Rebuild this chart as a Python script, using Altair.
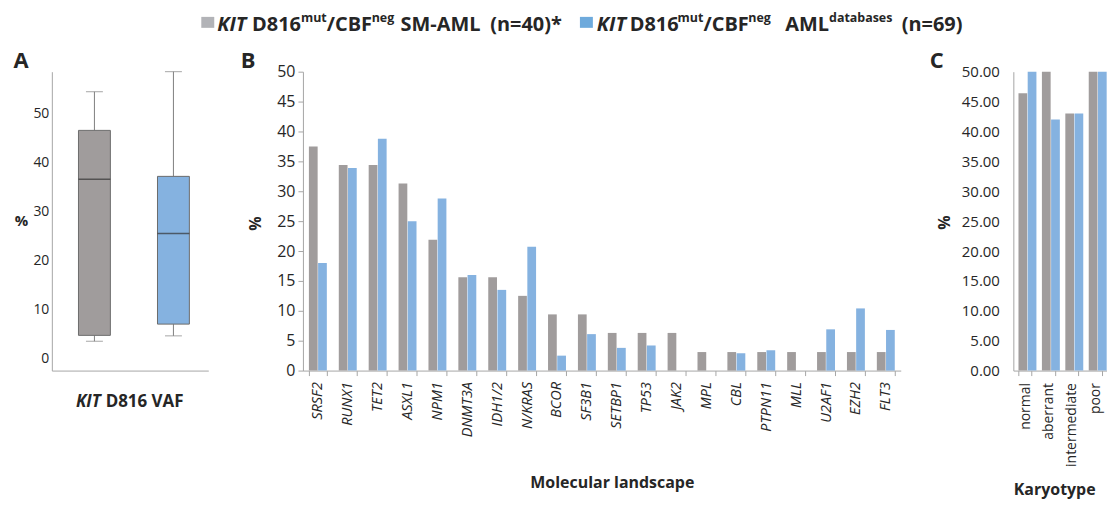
import altair as alt
import pandas as pd

FONT = "Open Sans"
DARK = "#262626"

# ---------------- data ----------------
series = ["SM-AML (n=40)", "AML databases (n=69)"]
series_colors = ["#b2b3b7", "#6eaadc"]

genes = ["SRSF2", "RUNX1", "TET2", "ASXL1", "NPM1", "DNMT3A", "IDH1/2", "N/KRAS",
         "BCOR", "SF3B1", "SETBP1", "TP53", "JAK2", "MPL", "CBL", "PTPN11", "MLL",
         "U2AF1", "EZH2", "FLT3"]
sm_aml_pct = [37.5, 34.4, 34.4, 31.3, 21.9, 15.6, 15.6, 12.5, 9.4, 9.4, 6.3, 6.3,
              6.3, 3.1, 3.1, 3.1, 3.1, 3.1, 3.1, 3.1]
aml_db_pct = [18.0, 33.9, 38.8, 25.0, 28.8, 16.0, 13.5, 20.7, 2.5, 6.1, 3.8, 4.2,
              0.0, 0.0, 2.9, 3.4, 0.0, 6.9, 10.4, 6.8]

karyotypes = ["normal", "aberrant", "intermediate", "poor"]
kary_sm_pct = [46.4, 50.0, 43.0, 50.0]
kary_db_pct = [50.0, 42.0, 43.0, 50.0]

box_groups = ["SM-AML", "AML databases"]
vaf_low = [3.5, 4.6]
vaf_q1 = [4.7, 7.0]
vaf_median = [36.6, 25.5]
vaf_q3 = [46.6, 37.2]
vaf_high = [54.5, 58.6]
box_fill = ["#a09c9c", "#85b2e0"]

y_ticks_a = [0, 10, 20, 30, 40, 50]
y_ticks_bc = [0, 5, 10, 15, 20, 25, 30, 35, 40, 45, 50]


def txt(s, x, y, size, italic=False, align="left", baseline="alphabetic", weight="bold"):
    return alt.Chart(pd.DataFrame({"t": [s]})).mark_text(
        align=align, baseline=baseline, fontSize=size, font=FONT,
        fontWeight=weight, fontStyle="italic" if italic else "normal", color=DARK
    ).encode(text="t:N", x=alt.value(x), y=alt.value(y))


def swatch(x, color):
    return alt.Chart(pd.DataFrame({"t": [0]})).mark_rect(color=color).encode(
        x=alt.value(x), x2=alt.value(x + 13), y=alt.value(8), y2=alt.value(19))


MAIN, SUP = 20, 12.5
BL, SBL = 22, 13

# ---------------- legend row ----------------
legend = alt.layer(
    swatch(150, series_colors[0]),
    txt("KIT", 166, BL, MAIN, italic=True),
    txt("D816", 201, BL, MAIN),
    txt("mut", 250, SBL, SUP),
    txt("/CBF", 276, BL, MAIN),
    txt("neg", 321, SBL, SUP),
    txt("SM-AML", 350, BL, MAIN),
    txt("(n=40)*", 440, BL, MAIN),
    swatch(530, series_colors[1]),
    txt("KIT", 547, BL, MAIN, italic=True),
    txt("D816", 580, BL, MAIN),
    txt("mut", 628, SBL, SUP),
    txt("/CBF", 654, BL, MAIN),
    txt("neg", 699, SBL, SUP),
    txt("AML", 736, BL, MAIN),
    txt("databases", 780, SBL, SUP),
    txt("(n=69)", 853, BL, MAIN),
).properties(width=1000, height=30)

# ---------------- panel A: box plot ----------------
box_df = pd.DataFrame({"group": box_groups, "low": vaf_low, "q1": vaf_q1,
                       "med": vaf_median, "q3": vaf_q3, "high": vaf_high})
xA = alt.X("group:N", sort=box_groups,
           scale=alt.Scale(type="point", padding=0.49, align=0.55),
           axis=alt.Axis(labels=False, ticks=False, title=None))
yA_scale = alt.Scale(domain=[-2.5, 58.6], nice=False, zero=False)
yA_axis = alt.Axis(values=y_ticks_a, ticks=False, labelPadding=3, labelFontSize=14,
                   title="%", titleAngle=0, titleX=-31, titleY=149, titleAlign="center",
                   titleBaseline="middle", titleFontSize=15, titleFontWeight="bold")
baseA = alt.Chart(box_df)
whisk_up = baseA.mark_rule(color="#7f7f7f").encode(
    x=xA, y=alt.Y("q3:Q", scale=yA_scale, axis=yA_axis), y2="high:Q")
whisk_lo = baseA.mark_rule(color="#7f7f7f").encode(x=xA, y=alt.Y("low:Q", scale=yA_scale), y2="q1:Q")
cap_hi = baseA.mark_tick(size=17, thickness=1, color="#7f7f7f").encode(x=xA, y=alt.Y("high:Q", scale=yA_scale))
cap_lo = baseA.mark_tick(size=17, thickness=1, color="#7f7f7f").encode(x=xA, y=alt.Y("low:Q", scale=yA_scale))
boxes = baseA.mark_bar(size=32, stroke="#6b6b6b", strokeWidth=1).encode(
    x=xA, y=alt.Y("q1:Q", scale=yA_scale), y2="q3:Q",
    color=alt.Color("group:N", scale=alt.Scale(domain=box_groups, range=box_fill), legend=None))
medians = baseA.mark_tick(size=32, thickness=1.5, color="#333333").encode(
    x=xA, y=alt.Y("med:Q", scale=yA_scale))
panelA = alt.layer(
    whisk_up, whisk_lo, cap_hi, cap_lo, boxes, medians,
    txt("A", -31, -11, 22, align="center", baseline="middle"),
    txt("KIT", 49, 332, 17, italic=True, align="right", baseline="middle"),
    txt("D816 VAF", 54, 332, 17, baseline="middle"),
).properties(width=157, height=300)

# ---------------- panel B: molecular landscape ----------------
df_b = pd.DataFrame(
    [{"gene": g, "series": series[0], "pct": v} for g, v in zip(genes, sm_aml_pct)] +
    [{"gene": g, "series": series[1], "pct": v} for g, v in zip(genes, aml_db_pct)])
bars_b = alt.Chart(df_b).mark_bar().encode(
    x=alt.X("gene:N", sort=genes, scale=alt.Scale(paddingInner=0.4, paddingOuter=0.2),
            axis=alt.Axis(labelAngle=270, labelFontStyle="italic", labelFontSize=14.5,
                          labelPadding=6, tickBand="extent", tickSize=5,
                          title="Molecular landscape", titleFontSize=16, titleFontWeight="bold",
                          titleX=310, titleY=112, titleAlign="center", titleBaseline="middle")),
    xOffset=alt.XOffset("series:N", sort=series, scale=alt.Scale(paddingInner=0.05)),
    y=alt.Y("pct:Q", scale=alt.Scale(domain=[0, 50], nice=False),
            axis=alt.Axis(values=y_ticks_bc, tickSize=5, labelPadding=3, labelFontSize=16,
                          title="%", titleAngle=270, titleX=-48, titleY=152,
                          titleAlign="center", titleBaseline="middle",
                          titleFontSize=16, titleFontWeight="bold")),
    color=alt.Color("series:N", scale=alt.Scale(domain=series, range=series_colors), legend=None),
)
panelB = alt.layer(
    bars_b,
    txt("B", -55, -11, 22, align="center", baseline="middle"),
).properties(width=600, height=300)

# ---------------- panel C: karyotype ----------------
df_c = pd.DataFrame(
    [{"kary": k, "series": series[0], "pct": v} for k, v in zip(karyotypes, kary_sm_pct)] +
    [{"kary": k, "series": series[1], "pct": v} for k, v in zip(karyotypes, kary_db_pct)])
bars_c = alt.Chart(df_c).mark_bar().encode(
    x=alt.X("kary:N", sort=karyotypes, scale=alt.Scale(paddingInner=0.44, paddingOuter=0.22),
            axis=alt.Axis(labelAngle=270, labelFontSize=14, labelPadding=7,
                          tickBand="extent", tickSize=5,
                          title="Karyotype", titleFontSize=16, titleFontWeight="bold",
                          titleX=41, titleY=119, titleAlign="center", titleBaseline="middle")),
    xOffset=alt.XOffset("series:N", sort=series, scale=alt.Scale(paddingInner=0.05)),
    y=alt.Y("pct:Q", scale=alt.Scale(domain=[0, 50], nice=False),
            axis=alt.Axis(values=y_ticks_bc, format=".2f", ticks=False, labelPadding=14,
                          labelFontSize=15, title="%", titleAngle=270, titleX=-69, titleY=151,
                          titleAlign="center", titleBaseline="middle",
                          titleFontSize=16, titleFontWeight="bold")),
    color=alt.Color("series:N", scale=alt.Scale(domain=series, range=series_colors), legend=None),
)
panelC = alt.layer(
    bars_c,
    txt("C", -77, -11, 22, align="center", baseline="middle"),
).properties(width=94, height=300)

row = alt.hconcat(panelA, alt.hconcat(panelB, panelC, spacing=113, bounds="flush"),
                  spacing=95, bounds="flush")

chart = alt.vconcat(legend, row, spacing=33, bounds="flush").properties(
    padding={"left": 5, "top": 0, "right": 0, "bottom": 10}
).configure_view(stroke=None).configure_axis(
    grid=False, domainColor="#a6a6a6", tickColor="#a6a6a6", domainWidth=1,
    labelColor=DARK, titleColor=DARK, labelFont=FONT, titleFont=FONT,
)

chart.save("out.html", embed_options={"renderer": "svg", "actions": False})
